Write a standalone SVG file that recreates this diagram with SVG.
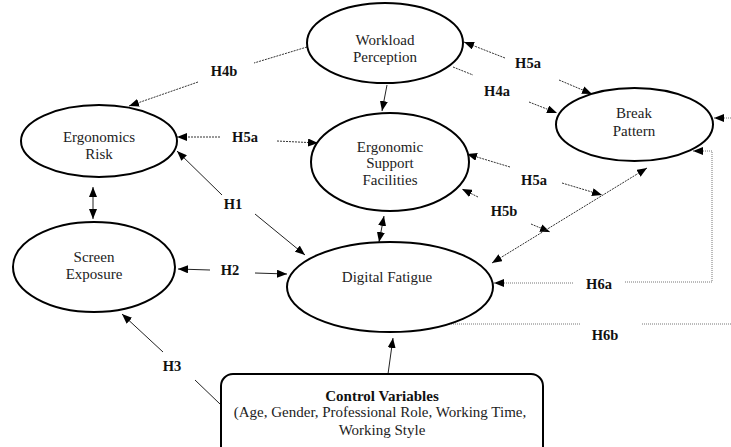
<svg xmlns="http://www.w3.org/2000/svg" width="731" height="447" viewBox="0 0 731 447">
<style>
.node ellipse{fill:#fff;stroke:#000;stroke-width:2}
.node rect{fill:#fff;stroke:#000;stroke-width:2}
text{font-family:"Liberation Serif","Times New Roman","DejaVu Serif",serif}
.t{font-size:15px;fill:#222;text-anchor:middle}
.b{font-size:14.5px;font-weight:bold;fill:#111;text-anchor:middle}
.s{stroke:#222;stroke-width:1;fill:none}
.d{stroke:#333;stroke-width:1;fill:none;stroke-dasharray:2 1}
.o{stroke:#777;stroke-width:1;fill:none;stroke-dasharray:1 1}
</style>
<defs>
<marker id="a" viewBox="0 0 10 8" refX="10" refY="4" markerWidth="10" markerHeight="8" markerUnits="userSpaceOnUse" orient="auto-start-reverse">
<path d="M0,0 L10,4 L0,8 z" fill="#000"/>
</marker>
</defs>
<rect width="731" height="447" fill="#fff"/>

<g id="connectors">
<line class="d" x1="307" y1="47" x2="254" y2="63"/>
<line class="d" x1="198" y1="82" x2="129" y2="106" marker-end="url(#a)"/>
<line class="d" x1="220" y1="137" x2="177" y2="137" marker-end="url(#a)"/>
<line class="d" x1="277" y1="141" x2="318" y2="143" marker-end="url(#a)"/>
<line class="s" x1="222" y1="195" x2="177" y2="151" marker-end="url(#a)"/>
<line class="s" x1="255" y1="214" x2="305" y2="255" marker-end="url(#a)"/>
<line class="s" x1="93" y1="187" x2="93" y2="219" marker-start="url(#a)" marker-end="url(#a)"/>
<line class="s" x1="210" y1="270" x2="178" y2="269" marker-end="url(#a)"/>
<line class="s" x1="255" y1="273" x2="287" y2="274" marker-end="url(#a)"/>
<line class="s" x1="163" y1="352" x2="122" y2="314" marker-end="url(#a)"/>
<line class="s" x1="195" y1="380" x2="220" y2="404"/>
<line class="s" x1="388" y1="374" x2="393" y2="338" marker-end="url(#a)"/>
<line class="s" x1="387" y1="85" x2="382" y2="111" marker-end="url(#a)"/>
<line class="s" x1="384" y1="216" x2="379" y2="242" marker-start="url(#a)" marker-end="url(#a)"/>
<line class="d" x1="505" y1="58" x2="464" y2="42" marker-end="url(#a)"/>
<line class="d" x1="559" y1="80" x2="592" y2="94" marker-end="url(#a)"/>
<line class="d" x1="453" y1="67" x2="473" y2="75"/>
<line class="d" x1="529" y1="102" x2="557" y2="113" marker-end="url(#a)"/>
<line class="d" x1="510" y1="167" x2="467" y2="154" marker-end="url(#a)"/>
<line class="d" x1="562" y1="183" x2="602" y2="195" marker-end="url(#a)"/>
<line class="d" x1="478" y1="197" x2="462" y2="189" marker-end="url(#a)"/>
<line class="d" x1="531" y1="224" x2="550" y2="232" marker-end="url(#a)"/>
<line class="d" x1="647" y1="168" x2="492" y2="263" marker-start="url(#a)" marker-end="url(#a)"/>
<polyline class="o" points="625,282 712,282 712,151 693,151" marker-end="url(#a)"/>
<line class="o" x1="573" y1="283" x2="494" y2="283" marker-end="url(#a)"/>
<line class="o" x1="731" y1="324" x2="642" y2="324"/>
<line class="o" x1="580" y1="324" x2="421" y2="324" marker-end="url(#a)"/>
<line class="o" x1="731" y1="118" x2="714" y2="118" marker-end="url(#a)"/>
</g>

<g id="workload" class="node">
<ellipse cx="385" cy="43" rx="78" ry="40"/>
<text class="t" x="385" y="45">Workload</text>
<text class="t" x="385" y="62">Perception</text>
</g>
<g id="ergorisk" class="node">
<ellipse cx="99" cy="141" rx="78" ry="36"/>
<text class="t" x="99" y="142">Ergonomics</text>
<text class="t" x="99" y="159">Risk</text>
</g>
<g id="screen" class="node">
<ellipse cx="94" cy="267" rx="81" ry="45"/>
<text class="t" x="94" y="262">Screen</text>
<text class="t" x="94" y="279">Exposure</text>
</g>
<g id="esf" class="node">
<ellipse cx="390" cy="162" rx="79" ry="49"/>
<text class="t" x="390" y="152">Ergonomic</text>
<text class="t" x="390" y="168">Support</text>
<text class="t" x="390" y="185">Facilities</text>
</g>
<g id="fatigue" class="node">
<ellipse cx="390" cy="287" rx="103" ry="45"/>
<text class="t" x="387" y="282">Digital Fatigue</text>
</g>
<g id="break" class="node">
<ellipse cx="634.5" cy="124.5" rx="78.5" ry="36.5"/>
<text class="t" x="634" y="118">Break</text>
<text class="t" x="634" y="136">Pattern</text>
</g>
<g id="control" class="node">
<rect x="221" y="374" width="322" height="90" rx="12" ry="12"/>
<text class="b" x="382" y="401" style="font-size:15px">Control Variables</text>
<text class="t" x="380" y="417">(Age, Gender, Professional Role, Working Time,</text>
<text class="t" x="382" y="435">Working Style</text>
</g>

<g id="labels">
<text class="b" x="224" y="76">H4b</text>
<text class="b" x="245" y="142">H5a</text>
<text class="b" x="233" y="209">H1</text>
<text class="b" x="230" y="275">H2</text>
<text class="b" x="172" y="371">H3</text>
<text class="b" x="528" y="68">H5a</text>
<text class="b" x="497" y="96">H4a</text>
<text class="b" x="534" y="185">H5a</text>
<text class="b" x="504" y="216">H5b</text>
<text class="b" x="599" y="289">H6a</text>
<text class="b" x="605" y="340">H6b</text>
</g>
</svg>
